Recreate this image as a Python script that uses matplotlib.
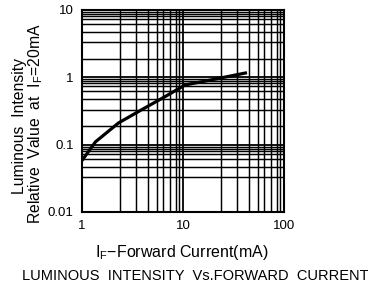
import numpy as np
import matplotlib
matplotlib.use("Agg")
from matplotlib import pyplot as plt
from matplotlib.ticker import FixedLocator, NullFormatter

plt.rcParams['font.family'] = ['Liberation Sans', 'DejaVu Sans']
plt.rcParams['mathtext.fontset'] = 'custom'
plt.rcParams['mathtext.rm'] = 'Liberation Sans'

current = [1, 1.36, 2.3, 3.9, 6.7, 10.5, 18, 43]
intensity = [0.058, 0.11, 0.21, 0.33, 0.52, 0.77, 0.9, 1.17]

x_ticks = [1, 10, 100]
x_labels = ['1', '10', '100']
y_ticks = [0.01, 0.1, 1, 10]
y_labels = ['0.01', '0.1', '1', '10']

# grid lines inside each decade, as drawn on the sheet
x_minor = [2.4, 3.4, 4.5, 5.5, 6.4, 7.5, 8.5, 9.2]
y_minor = [1.86, 3.3, 4.7, 6.2, 7.35, 8.1, 8.7, 9.3]

fig = plt.figure(figsize=(3.68, 2.92), dpi=100)
ax = fig.add_axes([0.2228, 0.274, 0.549, 0.692])

ax.set_xscale('log')
ax.set_yscale('log')
ax.set_xlim(1, 100)
ax.set_ylim(0.01, 10)

xm = [d * m for d in [1, 10] for m in x_minor]
ym = [d * m for d in [0.01, 0.1, 1] for m in y_minor if not (d == 0.01 and m < 2)]
ax.xaxis.set_major_locator(FixedLocator(x_ticks))
ax.yaxis.set_major_locator(FixedLocator(y_ticks))
ax.xaxis.set_minor_locator(FixedLocator(xm))
ax.yaxis.set_minor_locator(FixedLocator(ym))
ax.xaxis.set_minor_formatter(NullFormatter())
ax.yaxis.set_minor_formatter(NullFormatter())
ax.set_xticklabels(x_labels)
ax.set_yticklabels(y_labels)

ax.grid(True, which='major', color='black', linewidth=1.3)
ax.grid(True, which='minor', color='black', linewidth=1.05)
ax.tick_params(which='both', length=0, labelsize=9.5, pad=6)
for s in ax.spines.values():
    s.set_linewidth(1.5)

ax.plot(current, intensity, color='black', linewidth=2.3, solid_capstyle='butt')

fig.text(0.5 * (92 + 272) / 368, 1 - 253 / 292, r'I$_{\mathrm{F}}$$-$Forward Current(mA)',
         ha='center', va='center', fontsize=11.5)
fig.text(20 / 368, 1 - 126 / 292, 'Luminous  Intensity', rotation=90,
         ha='center', va='center', fontsize=11.3)
fig.text(36 / 368, 1 - 124 / 292, r'Relative  Value  at  I$_{\mathrm{F}}$=20mA', rotation=90,
         ha='center', va='center', fontsize=11.3)
fig.text(0.5 * (27 + 364) / 368, 1 - 276 / 292, 'LUMINOUS  INTENSITY  Vs.FORWARD  CURRENT',
         ha='center', va='center', fontsize=10.5)

fig.savefig('out.png', dpi=100)
